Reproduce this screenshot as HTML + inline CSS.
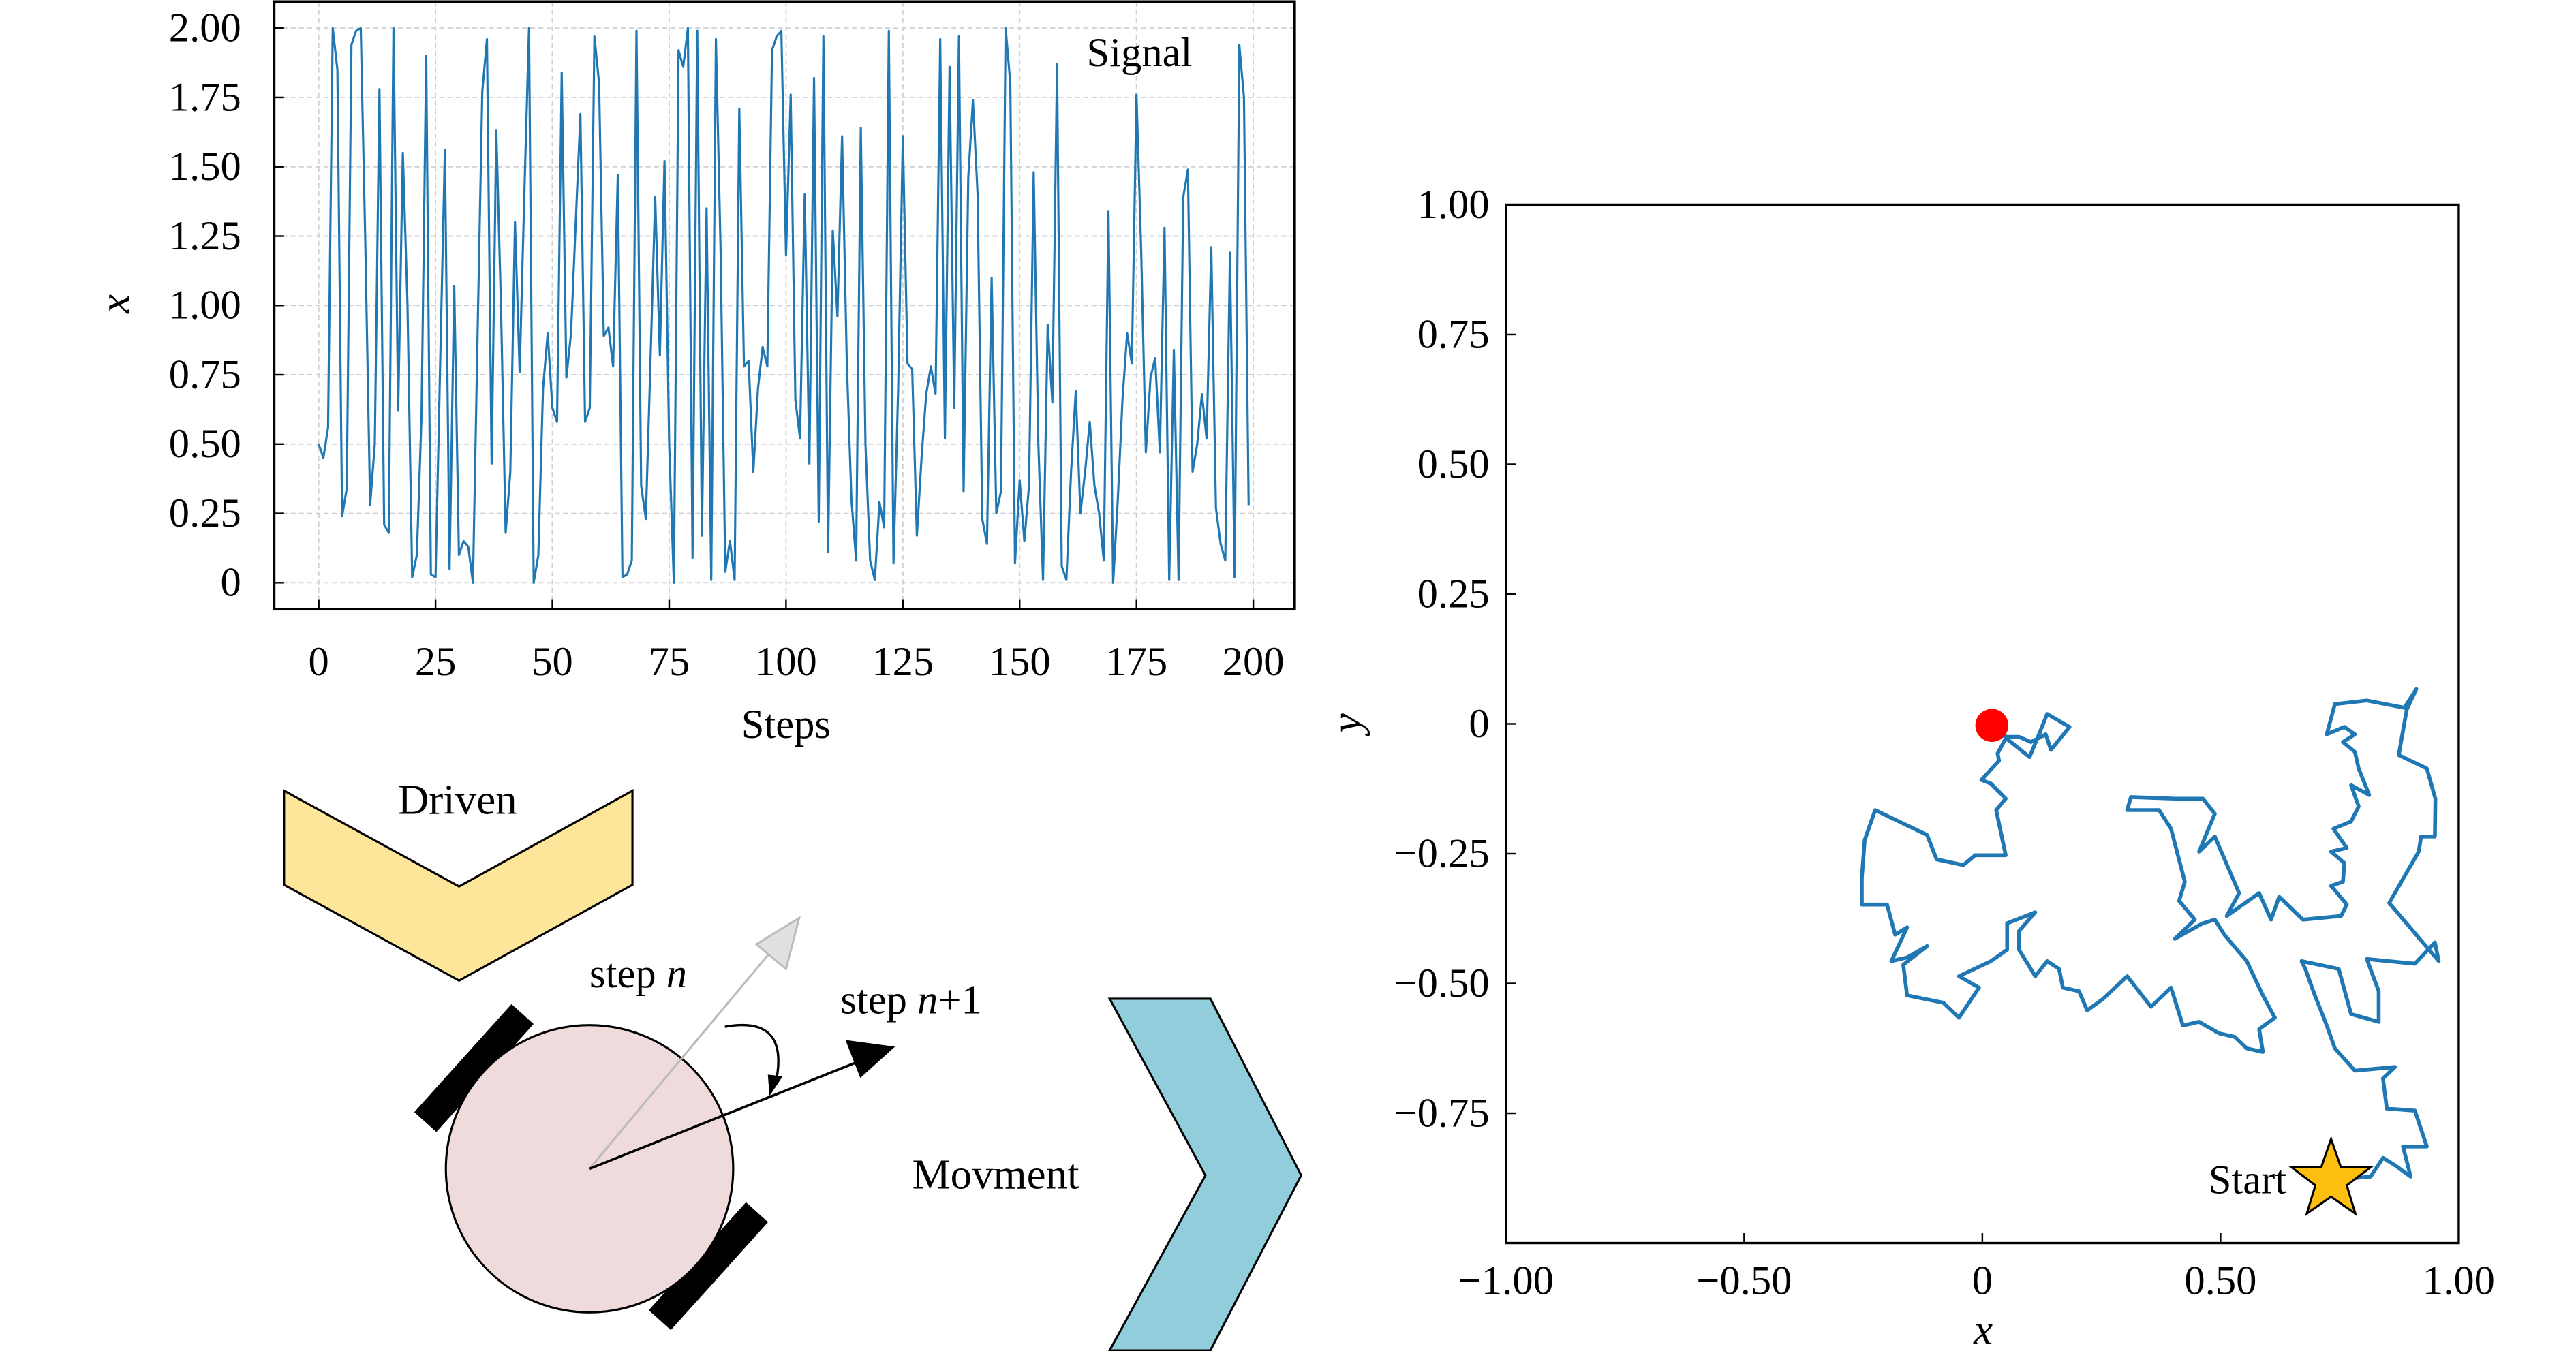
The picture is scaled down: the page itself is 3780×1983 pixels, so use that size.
<!DOCTYPE html>
<html><head><meta charset="utf-8"><style>
html,body{margin:0;padding:0;background:#fff;}
svg{display:block;font-family:"Liberation Serif",serif;}
</style></head><body>
<svg id="fig" width="3780" height="1983" viewBox="0 0 1560 818.4" xmlns="http://www.w3.org/2000/svg">
<g id="sig"></g>
<g id="walk"></g>
<g id="diagram">
  <polygon points="172,479 278,537 383,479 383,536 278,594 172,536" fill="#fde59a" stroke="#000" stroke-width="1.3"/>
  <text x="277" y="493" font-size="26" text-anchor="middle">Driven</text>
  <polygon points="672,605 733,605 788,712 733,818 672,818 730,712" fill="#92cddc" stroke="#000" stroke-width="1.3"/>
  <text x="603" y="720" font-size="26" text-anchor="middle">Movment</text>
  <rect x="243" y="638" width="88" height="18" fill="#000" transform="rotate(-48 287 647)"/>
  <rect x="385" y="758" width="88" height="18" fill="#000" transform="rotate(-48 429 767)"/>
  <circle cx="357" cy="708" r="87" fill="#efdbdb" stroke="#000" stroke-width="1.3"/>
  <line x1="357" y1="708" x2="468" y2="575" stroke="#bbb" stroke-width="1.3"/>
  <polygon points="484,556 476,587 458,572" fill="#e0e0e0" stroke="#bbb" stroke-width="1.2"/>
  <line x1="357" y1="708" x2="525" y2="641" stroke="#000" stroke-width="1.5"/>
  <polygon points="542,634 512,630 521,653" fill="#000"/>
  <path d="M439,622 Q478,615 470,655" fill="none" stroke="#000" stroke-width="1.4"/>
  <polygon points="466,664 465,651 474,652" fill="#000"/>
  <text x="357" y="598" font-size="25">step <tspan font-style="italic">n</tspan></text>
  <text x="509" y="614" font-size="25">step <tspan font-style="italic">n</tspan>+1</text>
</g>
</svg>
<script>
// ---------- Signal chart data ----------
const signalValues = [0.50,0.45,0.56,2.00,1.85,0.24,0.34,1.94,1.99,2.00,1.20,0.28,0.50,1.78,0.21,0.18,2.00,0.62,1.55,1.00,
0.02,0.10,0.60,1.90,0.03,0.02,0.80,1.56,0.05,1.07,0.10,0.15,0.13,0.00,0.90,1.77,1.96,0.43,1.63,1.00,
0.18,0.40,1.30,0.76,1.40,2.00,0.00,0.10,0.70,0.90,0.63,0.58,1.84,0.74,0.90,1.30,1.69,0.58,0.63,1.97,
1.80,0.89,0.92,0.78,1.47,0.02,0.03,0.08,1.99,0.35,0.23,0.80,1.39,0.82,1.52,0.50,0.00,1.92,1.86,2.00,
0.09,1.99,0.17,1.35,0.01,1.96,1.20,0.04,0.15,0.01,1.71,0.78,0.80,0.40,0.70,0.85,0.78,1.92,1.97,1.99,
1.18,1.76,0.66,0.52,1.40,0.43,1.82,0.22,1.97,0.11,1.27,0.96,1.61,0.80,0.30,0.08,1.64,0.50,0.08,0.01,
0.29,0.20,1.99,0.07,0.70,1.61,0.79,0.77,0.17,0.45,0.68,0.78,0.68,1.96,0.52,1.86,0.63,1.97,0.33,1.46,
1.74,1.40,0.23,0.14,1.10,0.25,0.33,2.00,1.80,0.07,0.37,0.15,0.35,1.48,0.50,0.01,0.93,0.65,1.87,0.06,
0.01,0.40,0.69,0.25,0.40,0.58,0.35,0.25,0.08,1.34,0.00,0.30,0.66,0.90,0.79,1.76,1.20,0.47,0.74,0.81,
0.47,1.28,0.01,0.84,0.01,1.39,1.49,0.40,0.50,0.68,0.52,1.21,0.27,0.14,0.08,1.19,0.02,1.94,1.75,0.28];
const signalXTicks = [0,25,50,75,100,125,150,175,200];
const signalYTicks = [0,0.25,0.5,0.75,1.0,1.25,1.5,1.75,2.0];
const signalYTickLabels = ["0","0.25","0.50","0.75","1.00","1.25","1.50","1.75","2.00"];

// ---------- Random walk data ----------
const walkX = [0.732,0.815,0.841,0.866,0.899,0.883,0.933,0.908,0.849,0.841,0.866,0.782,0.740,0.723,0.698,0.678,0.670,0.748,0.774,0.832,
0.832,0.807,0.908,0.950,0.958,0.854,0.916,0.921,0.950,0.951,0.933,0.874,0.891,0.911,0.886,0.807,0.740,0.723,0.760,0.782,
0.757,0.782,0.790,0.812,0.774,0.790,0.774,0.737,0.765,0.732,0.760,0.757,0.732,0.765,0.753,0.673,0.623,0.606,0.581,0.513,
0.539,0.488,0.455,0.488,0.463,0.404,0.312,0.304,0.371,0.396,0.425,0.413,0.446,0.404,0.463,0.488,0.508,0.555,0.589,0.614,
0.581,0.589,0.555,0.530,0.497,0.455,0.421,0.396,0.354,0.304,0.253,0.220,0.203,0.169,0.161,0.136,0.111,0.077,0.077,0.111,
0.052,0.052,0.018,-0.049,-0.007,-0.049,-0.082,-0.158,-0.166,-0.116,-0.158,-0.191,-0.158,-0.183,-0.200,-0.253,-0.253,-0.247,-0.225,-0.116,
-0.096,-0.040,-0.015,0.049,0.029,0.049,0.018,-0.002,0.035,0.032,0.049,0.060,0.099,0.119,0.136,0.183,0.144,0.133,0.102,0.077,
0.052,0.035,0.020];
const walkY = [-0.879,-0.872,-0.836,-0.850,-0.872,-0.814,-0.814,-0.745,-0.741,-0.683,-0.661,-0.668,-0.625,-0.581,-0.523,-0.472,-0.457,-0.472,-0.559,-0.574,
-0.515,-0.453,-0.462,-0.421,-0.457,-0.345,-0.246,-0.217,-0.217,-0.144,-0.086,-0.060,0.028,0.067,0.031,0.045,0.038,-0.020,-0.006,-0.020,
-0.035,-0.054,-0.086,-0.137,-0.118,-0.159,-0.188,-0.202,-0.239,-0.246,-0.268,-0.304,-0.312,-0.348,-0.370,-0.377,-0.333,-0.377,-0.326,-0.370,
-0.326,-0.217,-0.246,-0.173,-0.144,-0.144,-0.141,-0.166,-0.166,-0.202,-0.304,-0.341,-0.377,-0.414,-0.384,-0.377,-0.406,-0.457,-0.523,-0.566,
-0.588,-0.632,-0.625,-0.603,-0.596,-0.574,-0.581,-0.508,-0.545,-0.486,-0.530,-0.552,-0.515,-0.508,-0.472,-0.457,-0.486,-0.435,-0.399,-0.363,
-0.384,-0.435,-0.457,-0.486,-0.508,-0.566,-0.537,-0.523,-0.464,-0.428,-0.450,-0.457,-0.392,-0.406,-0.348,-0.348,-0.297,-0.224,-0.166,-0.214,
-0.261,-0.272,-0.253,-0.253,-0.166,-0.144,-0.115,-0.108,-0.071,-0.057,-0.028,-0.035,-0.064,-0.020,0.019,-0.006,-0.050,-0.020,-0.035,-0.025,
-0.025,-0.020,-0.003];
const walkXTicks = [-1,-0.5,0,0.5,1];
const walkXTickLabels = ["\u22121.00","\u22120.50","0","0.50","1.00"];
const walkYTicks = [-0.75,-0.5,-0.25,0,0.25,0.5,0.75,1];
const walkYTickLabels = ["\u22120.75","\u22120.50","\u22120.25","0","0.25","0.50","0.75","1.00"];

const NS = "http://www.w3.org/2000/svg";
function mk(parent, tag, attrs, text){
  const e = document.createElementNS(NS, tag);
  for (const k in attrs) e.setAttribute(k, attrs[k]);
  if (text !== undefined) e.textContent = text;
  parent.appendChild(e);
  return e;
}

// ---------- Signal chart ----------
(function(){
  const g = document.getElementById('sig');
  const L=166, R=784, T=1, B=369;
  const sx = v => 193 + v*(759-193)/200;
  const sy = v => 353 - v*(353-17)/2;
  signalXTicks.forEach(t=>{
    const gl = mk(g,'line',{x1:sx(t),x2:sx(t),y1:T,y2:B,stroke:'#d0d0d0','stroke-width':0.8,'stroke-dasharray':'3,2'});
    
    
    const tk = mk(g,'line',{x1:sx(t),x2:sx(t),y1:B,y2:B-6,stroke:'#000','stroke-width':1});
    
    
    const lb = mk(g,'text',{x:sx(t),y:409,'font-size':25,'text-anchor':'middle'},String(t));
    
    
  });
  signalYTicks.forEach((t,i)=>{
    const gl = mk(g,'line',{x1:L,x2:R,y1:sy(t),y2:sy(t),stroke:'#d0d0d0','stroke-width':0.8,'stroke-dasharray':'3,2'});
    
    
    const tk = mk(g,'line',{x1:L,x2:L+6,y1:sy(t),y2:sy(t),stroke:'#000','stroke-width':1});
    
    
    const lb = mk(g,'text',{x:146,y:sy(t)+8,'font-size':25,'text-anchor':'end'},signalYTickLabels[i]);
    
    
  });
  const pts = signalValues.map((v,i)=>sx(i).toFixed(2)+','+sy(v).toFixed(2)).join(' ');
  const ln = mk(g,'polyline',{points:pts,fill:'none',stroke:'#1f77b4','stroke-width':1.3,'stroke-linejoin':'round'});
  
  
  const fr = mk(g,'rect',{x:L,y:T,width:R-L,height:B-T,fill:'none',stroke:'#000','stroke-width':1.6});
  
  
  const lg = mk(g,'text',{x:690,y:40,'font-size':25,'text-anchor':'middle'},'Signal');
  
  
  const xt = mk(g,'text',{x:476,y:447,'font-size':25,'text-anchor':'middle'},'Steps');
  
  
  const yt = mk(g,'text',{x:0,y:0,'font-size':26,'font-style':'italic','text-anchor':'middle',transform:'translate(78,184) rotate(-90)'},'x');
  
  
})();

// ---------- Random walk chart ----------
(function(){
  const g = document.getElementById('walk');
  const L=912, R=1489, T=124, B=753;
  const sx = v => L + (v+1)*(R-L)/2;
  const sy = v => B - (v+1)*(B-T)/2;
  walkXTicks.forEach((t,i)=>{
    const tk = mk(g,'line',{x1:sx(t),x2:sx(t),y1:B,y2:B-6,stroke:'#000','stroke-width':1});
    
    
    const lb = mk(g,'text',{x:sx(t),y:784,'font-size':25,'text-anchor':'middle'},walkXTickLabels[i]);
    
    
  });
  walkYTicks.forEach((t,i)=>{
    const tk = mk(g,'line',{x1:L,x2:L+6,y1:sy(t),y2:sy(t),stroke:'#000','stroke-width':1});
    
    
    const lb = mk(g,'text',{x:902,y:sy(t)+8,'font-size':25,'text-anchor':'end'},walkYTickLabels[i]);
    
    
  });
  const pts = walkX.map((v,i)=>sx(v).toFixed(2)+','+sy(walkY[i]).toFixed(2)).join(' ');
  const ln = mk(g,'polyline',{points:pts,fill:'none',stroke:'#1f77b4','stroke-width':2.3,'stroke-linejoin':'round'});
  
  
  const n = walkX.length-1;
  const dot = mk(g,'circle',{cx:sx(walkX[n]),cy:sy(walkY[n]),r:10,fill:'#ff0000'});
  
  
  const cx = sx(walkX[0]), cy = sy(walkY[0]);
  let sp = [];
  for (let k=0;k<10;k++){
    const r = k%2===0 ? 25 : 10;
    const a = -Math.PI/2 + k*Math.PI/5;
    sp.push((cx+r*Math.cos(a)).toFixed(2)+','+(cy+r*Math.sin(a)).toFixed(2));
  }
  const st = mk(g,'polygon',{points:sp.join(' '),fill:'#fcbf10',stroke:'#000','stroke-width':1.3});
  
  
  const stl = mk(g,'text',{x:cx-27,y:cy+8,'font-size':25,'text-anchor':'end'},'Start');
  
  
  const fr = mk(g,'rect',{x:L,y:T,width:R-L,height:B-T,fill:'none',stroke:'#000','stroke-width':1.4});
  
  
  const xt = mk(g,'text',{x:1201,y:814,'font-size':26,'font-style':'italic','text-anchor':'middle'},'x');
  
  
  const yt = mk(g,'text',{x:0,y:0,'font-size':26,'font-style':'italic','text-anchor':'middle',transform:'translate(824,438) rotate(-90)'},'y');
  
  
})();
</script>
</body></html>
